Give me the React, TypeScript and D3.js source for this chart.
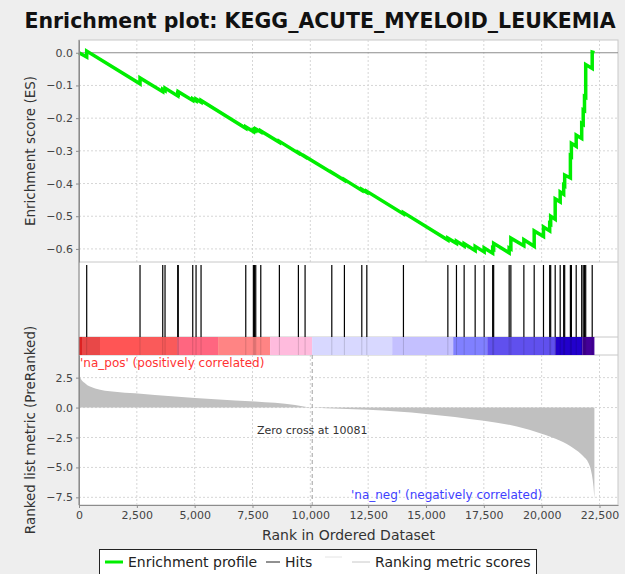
import { useEffect, useRef } from "react";
import * as d3 from "d3";

const totalRanks = 22280;
const zeroCross = 10081;

// positions of the gene set members in the ranked list
const hitRanks = [
  333, 2638, 3620, 3719, 4268, 4290, 4917, 5060, 5276, 7209, 7538, 7590, 7641, 7858, 8662, 9484,
  9773, 10928, 11473, 12225, 12442, 14025, 15945, 16317, 16649, 17125, 17514, 17882, 17925, 18595,
  18669, 19231, 19677, 20079, 20347, 20390, 20585, 20801, 20952, 20995, 21242, 21285, 21493, 21731,
  21796, 21852, 21904, 22185,
];

// running enrichment score (before / after each hit)
const esPoints: [number, number][] = [
  [0, 0],
  [333, -0.013], [333, 0.005],
  [2638, -0.095], [2638, -0.077],
  [3620, -0.119], [3620, -0.112],
  [3719, -0.116], [3719, -0.108],
  [4268, -0.132], [4268, -0.125],
  [4290, -0.126], [4290, -0.119],
  [4917, -0.146], [4917, -0.141],
  [5060, -0.147], [5060, -0.142],
  [5276, -0.151], [5276, -0.146],
  [7209, -0.231], [7209, -0.227],
  [7538, -0.241], [7538, -0.237],
  [7590, -0.239], [7590, -0.235],
  [7641, -0.237], [7641, -0.233],
  [7858, -0.242], [7858, -0.239],
  [8662, -0.274], [8662, -0.271],
  [9484, -0.307], [9484, -0.305],
  [9773, -0.318], [9773, -0.317],
  [10928, -0.367], [10928, -0.366],
  [11473, -0.39], [11473, -0.388],
  [12225, -0.421], [12225, -0.418],
  [12442, -0.427], [12442, -0.424],
  [14025, -0.493], [14025, -0.489],
  [15945, -0.573], [15945, -0.567],
  [16317, -0.583], [16317, -0.576],
  [16649, -0.591], [16649, -0.584],
  [17125, -0.605], [17125, -0.592],
  [17514, -0.609], [17514, -0.597],
  [17882, -0.613], [17882, -0.598],
  [17925, -0.6], [17925, -0.583],
  [18595, -0.612], [18595, -0.597],
  [18669, -0.6], [18669, -0.567],
  [19231, -0.59], [19231, -0.572],
  [19677, -0.592], [19677, -0.545],
  [20079, -0.562], [20079, -0.533],
  [20347, -0.545], [20347, -0.522],
  [20390, -0.524], [20390, -0.5],
  [20585, -0.509], [20585, -0.447],
  [20801, -0.456], [20801, -0.426],
  [20952, -0.433], [20952, -0.405],
  [20995, -0.407], [20995, -0.374],
  [21242, -0.383], [21242, -0.315],
  [21285, -0.317], [21285, -0.277],
  [21493, -0.286], [21493, -0.252],
  [21731, -0.262], [21731, -0.216],
  [21796, -0.219], [21796, -0.175],
  [21852, -0.177], [21852, -0.134],
  [21904, -0.136], [21904, -0.036],
  [22185, -0.048], [22185, 0.002],
  [22280, 0],
];

// ranked list metric (PreRanked), sampled along the list
const metricPoints: [number, number][] = [
  [0, 2.9], [60, 2.5], [250, 2.05], [700, 1.6], [1550, 1.33], [2420, 1.2], [4150, 0.92],
  [5880, 0.7], [7610, 0.5], [9340, 0.22], [10081, 0], [12500, -0.19], [15000, -0.53],
  [17500, -1.11], [18930, -1.58], [20000, -2.19], [20800, -2.78], [21375, -3.39],
  [21810, -4.08], [22025, -4.64], [22170, -5.6], [22240, -6.6], [22280, -7.6],
];

// heat bar under the hits: [start rank, end rank, colour]
const barSegments: [number, number, string][] = [
  [0, 130, "#dd2222"], [130, 908, "#e84848"], [908, 2638, "#ff5555"], [2638, 4239, "#fa5a5a"],
  [4239, 6012, "#ff6680"], [6012, 8261, "#ff8484"], [8261, 10078, "#ffbbdd"],
  [10078, 13538, "#d8d8ff"], [13538, 16176, "#c4c0ff"], [16176, 17647, "#8080ff"],
  [17647, 20588, "#6050ee"], [20588, 21756, "#2200cc"], [21756, totalRanks, "#440099"],
];

const xTicks = [0, 2500, 5000, 7500, 10000, 12500, 15000, 17500, 20000, 22500];
const esTicks = [0, -0.1, -0.2, -0.3, -0.4, -0.5, -0.6];
const metricTicks = [2.5, 0, -2.5, -5, -7.5];

const W = 625;
const H = 574;
const FONT = "DejaVu Sans";

const fmtNum = (v: number) => (v < 0 ? "\u2212" : "") + d3.format(".1f")(Math.abs(v));

const App = () => {
  const ref = useRef<SVGSVGElement | null>(null);

  useEffect(() => {
    if (!ref.current) return;
    const svg = d3.select(ref.current);
    svg.selectAll("*").remove();

    const left = 79;
    const right = 618;
    const esTop = 40, esBottom = 262;
    const hitsBottom = 337, barBottom = 355;
    const mBottom = 505;

    const x = d3.scaleLinear().domain([0, 23300]).range([left, right]);
    const yEs = d3.scaleLinear().domain([-0.64, 0.039]).range([esBottom, esTop]);
    const yM = d3.scaleLinear().domain([-8.14, 4.39]).range([mBottom, barBottom]);

    svg.append("rect").attr("width", W).attr("height", H).attr("fill", "#eeeeee");

    // panels
    svg.append("rect")
      .attr("x", left).attr("y", esTop).attr("width", right - left).attr("height", mBottom - esTop)
      .attr("fill", "#ffffff").attr("stroke", "#c8c8c8");

    // grids
    const grid = svg.append("g").attr("stroke", "#d6d6d6").attr("stroke-dasharray", "2,2");
    xTicks.slice(1).forEach(t => {
      grid.append("line").attr("x1", x(t)).attr("x2", x(t)).attr("y1", esTop).attr("y2", esBottom);
      grid.append("line").attr("x1", x(t)).attr("x2", x(t)).attr("y1", barBottom).attr("y2", mBottom);
    });
    esTicks.slice(1).forEach(t => {
      grid.append("line").attr("x1", left).attr("x2", right).attr("y1", yEs(t)).attr("y2", yEs(t));
    });
    metricTicks.forEach(t => {
      grid.append("line").attr("x1", left).attr("x2", right).attr("y1", yM(t)).attr("y2", yM(t));
    });

    // zero line of ES
    svg.append("line")
      .attr("x1", left).attr("x2", right).attr("y1", yEs(0)).attr("y2", yEs(0))
      .attr("stroke", "#8c8c8c");

    // panel separators
    [esBottom, hitsBottom, barBottom].forEach(yy => {
      svg.append("line").attr("x1", left).attr("x2", right).attr("y1", yy).attr("y2", yy)
        .attr("stroke", "#c8c8c8");
    });

    // metric area
    const area = d3.area<[number, number]>()
      .x(d => x(d[0]))
      .y0(yM(0))
      .y1(d => yM(d[1]))
      .curve(d3.curveMonotoneX);
    svg.append("path").datum(metricPoints).attr("d", area).attr("fill", "#c0c0c0");

    // zero cross
    svg.append("line")
      .attr("x1", x(zeroCross)).attr("x2", x(zeroCross)).attr("y1", barBottom).attr("y2", mBottom)
      .attr("stroke", "#a0a0a0").attr("stroke-dasharray", "4,3");
    svg.append("text")
      .attr("x", x(zeroCross)).attr("y", 434).attr("text-anchor", "middle")
      .attr("font-family", FONT).attr("font-size", 11).attr("fill", "#333")
      .text(`Zero cross at ${zeroCross}`);

    svg.append("text")
      .attr("x", 80).attr("y", 367)
      .attr("font-family", FONT).attr("font-size", 12).attr("fill", "#ff3333")
      .text("'na_pos' (positively correlated)");
    svg.append("text")
      .attr("x", 351).attr("y", 499)
      .attr("font-family", FONT).attr("font-size", 12).attr("fill", "#3f3fff")
      .text("'na_neg' (negatively correlated)");

    // heat bar
    svg.append("g").selectAll("rect").data(barSegments).enter().append("rect")
      .attr("x", d => x(d[0])).attr("width", d => x(d[1]) - x(d[0]))
      .attr("y", hitsBottom).attr("height", barBottom - hitsBottom)
      .attr("fill", d => d[2]);

    // hits
    svg.append("g").selectAll("line").data(hitRanks).enter().append("line")
      .attr("x1", d => x(d)).attr("x2", d => x(d))
      .attr("y1", 265).attr("y2", hitsBottom)
      .attr("stroke", "#000").attr("stroke-width", 1.2);
    svg.append("g").selectAll("line").data(hitRanks).enter().append("line")
      .attr("x1", d => x(d)).attr("x2", d => x(d))
      .attr("y1", hitsBottom).attr("y2", barBottom)
      .attr("stroke", "#000").attr("stroke-opacity", 0.15);

    // ES profile
    const line = d3.line<[number, number]>().x(d => x(d[0])).y(d => yEs(d[1]));
    svg.append("path").datum(esPoints).attr("d", line)
      .attr("fill", "none").attr("stroke", "#00ee00").attr("stroke-width", 3.5)
      .attr("stroke-linejoin", "miter");

    // axes
    const styleAxis = (g: d3.Selection<SVGGElement, unknown, null, undefined>) => {
      g.select(".domain").attr("stroke", "#8c8c8c");
      g.selectAll(".tick line").attr("stroke", "#8c8c8c");
      g.selectAll(".tick text").attr("font-family", FONT).attr("font-size", 11).attr("fill", "#444");
    };

    const gEs = svg.append("g").attr("transform", `translate(${left},0)`)
      .call(d3.axisLeft(yEs).tickValues(esTicks).tickFormat(d => fmtNum(+d)).tickSize(3).tickSizeOuter(0));
    styleAxis(gEs);
    const gM = svg.append("g").attr("transform", `translate(${left},0)`)
      .call(d3.axisLeft(yM).tickValues(metricTicks).tickFormat(d => fmtNum(+d)).tickSize(3).tickSizeOuter(0));
    styleAxis(gM);
    svg.append("line").attr("x1", left).attr("x2", left).attr("y1", esTop).attr("y2", mBottom)
      .attr("stroke", "#8c8c8c");

    const gX = svg.append("g").attr("transform", `translate(0,${mBottom})`)
      .call(d3.axisBottom(x).tickValues(xTicks).tickFormat(d3.format(",")).tickSize(3).tickSizeOuter(0));
    styleAxis(gX);

    // titles
    svg.append("text")
      .attr("x", 320).attr("y", 28).attr("text-anchor", "middle")
      .attr("font-family", FONT).attr("font-weight", "bold").attr("font-size", 20.5).attr("fill", "#111")
      .text("Enrichment plot: KEGG_ACUTE_MYELOID_LEUKEMIA");
    svg.append("text")
      .attr("x", (left + right) / 2).attr("y", 540).attr("text-anchor", "middle")
      .attr("font-family", FONT).attr("font-size", 14).attr("fill", "#333")
      .text("Rank in Ordered Dataset");
    svg.append("text")
      .attr("transform", `translate(35,${(esTop + esBottom) / 2}) rotate(-90)`)
      .attr("text-anchor", "middle")
      .attr("font-family", FONT).attr("font-size", 13.5).attr("fill", "#333")
      .text("Enrichment score (ES)");
    svg.append("text")
      .attr("transform", `translate(35,${(barBottom + mBottom) / 2}) rotate(-90)`)
      .attr("text-anchor", "middle")
      .attr("font-family", FONT).attr("font-size", 13.5).attr("fill", "#333")
      .text("Ranked list metric (PreRanked)");

    // legend
    const lg = svg.append("g");
    lg.append("rect").attr("x", 99.5).attr("y", 549.5).attr("width", 437).attr("height", 30)
      .attr("fill", "#fff").attr("stroke", "#222");
    const items: [number, number, string, string, number][] = [
      [105, 123, "#00ee00", "Enrichment profile", 3],
      [266, 280, "#222", "Hits", 1],
      [352, 370, "#c8c8c8", "Ranking metric scores", 1],
    ];
    items.forEach(([x1, x2, c, label, sw]) => {
      lg.append("line").attr("x1", x1).attr("x2", x2).attr("y1", 562).attr("y2", 562)
        .attr("stroke", c).attr("stroke-width", sw);
      lg.append("text").attr("x", x2 + 5).attr("y", 567)
        .attr("font-family", FONT).attr("font-size", 14).attr("fill", "#222").text(label);
    });
    lg.append("line").attr("x1", 325).attr("x2", 342).attr("y1", 557).attr("y2", 557)
      .attr("stroke", "#e4e4e4");
  }, []);

  return (
    <svg
      ref={ref}
      width={W}
      height={H}
      style={{ position: "absolute", left: 0, top: 0, display: "block" }}
    />
  );
};

export default App;
